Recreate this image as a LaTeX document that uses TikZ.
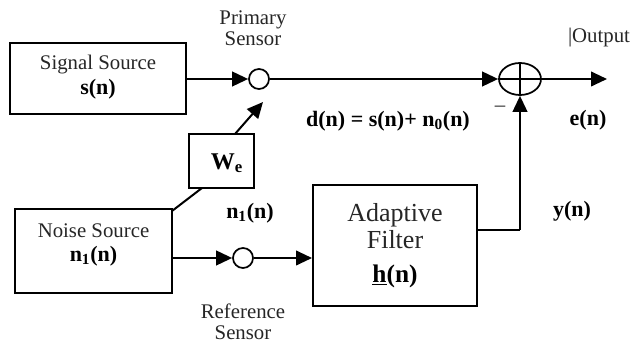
\documentclass[tikz,border=0pt]{standalone}
\usepackage{fontspec}
\setmainfont{Liberation Serif}
\usetikzlibrary{arrows.meta,shapes.geometric}
\tikzset{
  blk/.style={draw, line width=1.5pt, inner sep=0pt, align=center},
  lbl/.style={font=\fontsize{15.6}{17}\selectfont, inner sep=0pt, text=black!85, align=center},
  mth/.style={font=\fontsize{16.5}{18}\selectfont\bfseries, inner sep=0pt},
  wire/.style={line width=1.5pt},
  arr/.style={line width=1.5pt, -{Triangle[length=12pt,width=11pt]}},
  sens/.style={draw, circle, line width=1.3pt, minimum size=15pt, inner sep=0pt}
}
\begin{document}
\begin{tikzpicture}[x=0.75pt,y=-0.75pt]
\useasboundingbox (0,0) rectangle (640,345);
% boxes
\node[blk, minimum width=132pt, minimum height=53.25pt] (sig) at (98,78.5) {};
\node[lbl] (sigt) at (98,65) {Signal Source};
\node[mth] (sigm) at (98,89) {s(n)};
\node[blk, minimum width=117.75pt, minimum height=63pt] (noi) at (93.5,251) {};
\node[lbl] (noit) at (93.5,231) {Noise Source};
\node[mth] (noim) at (93.5,256) {n$_{\mathbf 1}$(n)};
\node[blk, minimum width=123pt, minimum height=90.75pt] (flt) at (395,245.5) {};
\node[lbl, font=\fontsize{19.5}{22}\selectfont] (fltt) at (395,226) {Adaptive\\[-2pt]Filter};
\node[mth, font=\fontsize{19}{21}\selectfont\bfseries] (fltm) at (395,276) {\underline{h}(n)};
\node[blk, minimum width=48.75pt, minimum height=40.5pt] (we) at (221.5,161) {};
\node[mth, font=\fontsize{18}{20}\selectfont\bfseries] (wet) at (227,163) {W$_{\mathbf e}$};
% sensors
\node[sens] (ps) at (259,79) {};
\node[sens] (rs) at (243,258) {};
\node[draw, ellipse, line width=1.3pt, minimum width=31.5pt, minimum height=24pt, inner sep=0pt] (sum) at (520,79) {};
\draw[line width=1pt] (sum.north) -- (sum.south) (sum.west) -- (sum.east);
% labels
\node[lbl] (pst) at (253,28) {Primary\\[-1pt]Sensor};
\node[lbl] (rst) at (243,322) {Reference\\[-1pt]Sensor};
\node[lbl] (out) at (599,38) {|Output};
\node[mth] (en) at (588,120) {e(n)};
\node[mth] (dn) at (388,121) {d(n) = s(n)+ n$_{\mathbf 0}$(n)};
\node[mth] (yn) at (572,211) {y(n)};
\node[mth] (n1) at (250,213) {n$_{\mathbf 1}$(n)};
\node[lbl] (minus) at (500,109) {--};
% coordinates
\coordinate (outend) at (607,79);
\coordinate (fo) at (477,230);
\coordinate (corner) at (520,230);
\coordinate (d1) at (172,211);
\coordinate (d2) at (202,188);
\coordinate (d3) at (235,134);
\coordinate (d4) at (263,102);
% connectors
\draw[arr] (sig.east |- ps) -- (ps.west);
\draw[arr] (ps.east) -- (sum.west);
\draw[arr] (sum.east) -- (outend);
\draw[arr] (noi.east |- rs) -- (rs.west);
\draw[arr] (rs.east) -- (flt.west |- rs);
\draw[wire] (fo) -- (corner);
\draw[arr] (corner) -- (sum.south);
\draw[wire] (d1) -- (d2);
\draw[arr] (d3) -- (d4);
\end{tikzpicture}
\end{document}
